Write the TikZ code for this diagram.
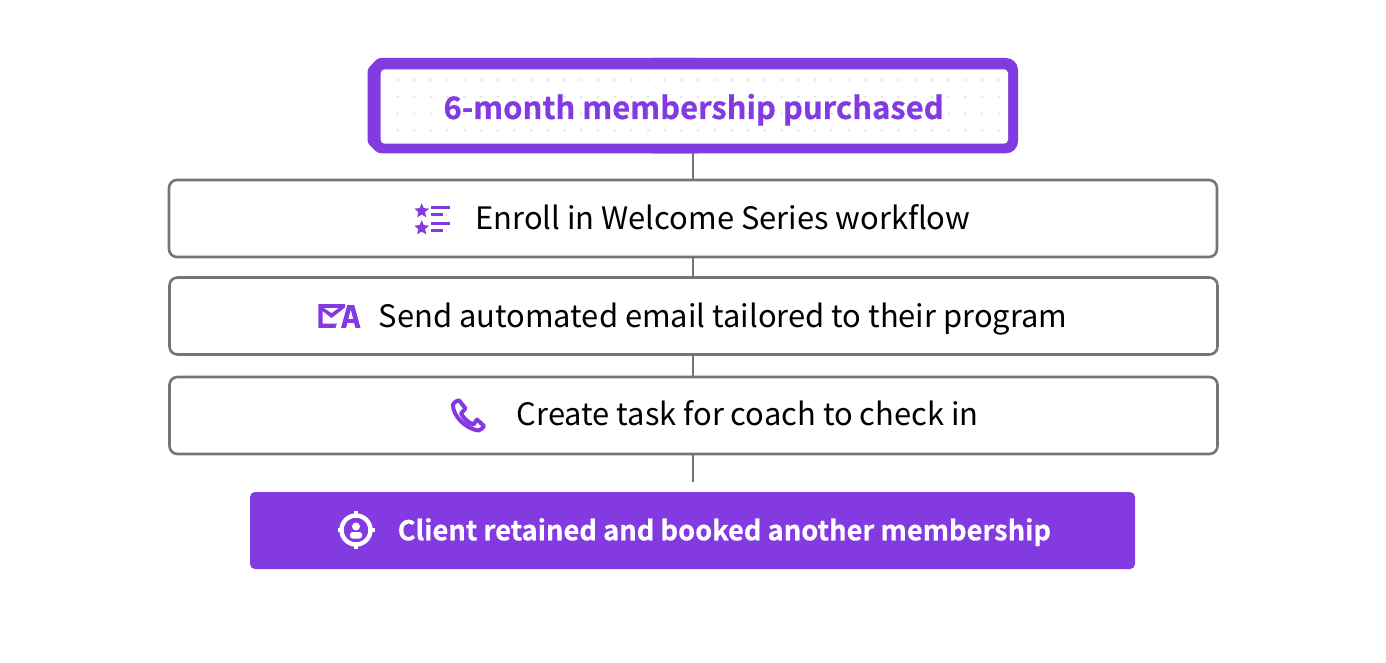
\documentclass[tikz,border=0pt]{standalone}
\usepackage{fontspec}
\setmainfont{Noto Sans CJK SC}
\newfontfamily\boldface[FakeBold=0.5]{Noto Sans CJK SC Bold}
\usetikzlibrary{shapes.geometric}
\definecolor{vio}{HTML}{833AE0}
\definecolor{edge}{HTML}{757575}
\definecolor{dotc}{HTML}{E6E6E6}
\tikzset{
  x=1pt,y=-1pt,
  stepbox/.style={draw=edge,line width=2.6pt,fill=white,rounded corners=8pt,minimum height=77pt,inner sep=0pt},
  link/.style={draw=edge,line width=2.6pt},
  lbl/.style={anchor=base west,inner sep=0pt,font=\fontsize{30.9}{38}\selectfont,text=black},
  icon/.style={fill=vio,draw=none},
  iconline/.style={draw=vio,line width=3.2pt,line cap=butt},
  starmark/.style={star,star points=5,star point ratio=2.2,fill=vio,draw=none,minimum size=15.5pt,inner sep=0pt},
}
\begin{document}
\begin{tikzpicture}
\useasboundingbox (0,0) rectangle (1386,663);
\fill[white] (0,0) rectangle (1386,663);
% top box
\fill[vio,rounded corners=12pt] (640,58) -- (1018,58) -- (1018,153.3) -- (640,153.3) -- cycle;
\fill[vio,rounded corners=3pt] (700,58) -- (378,58) -- (367.5,69) -- (367.5,143) -- (378,153.3) -- (700,153.3) -- cycle;
\node[fill=white,rounded corners=4pt,minimum width=627.3pt,minimum height=74.4pt,inner sep=0pt] (top) at (694.35,106.5) {};
\foreach \i in {1,...,37}{\foreach \y in {80,96.7,113.6,130.5}{
  \fill[dotc] ({380.8+16.7*\i},\y) circle[radius=1.5];}}
\node[anchor=base west,inner sep=0pt,text=vio,font=\boldface\fontsize{31}{38}\selectfont] (ttl) at (443.3,119) {6-month membership purchased};
% steps
\node[stepbox,minimum width=1048pt] (s1) at (693,218.5) {};
\node[stepbox,minimum width=1048pt] (s2) at (693.5,316) {};
\node[stepbox,minimum width=1048pt] (s3) at (693.5,415.5) {};
\node[fill=vio,rounded corners=5pt,minimum width=885pt,minimum height=77pt,inner sep=0pt] (goal) at (692.5,530.5) {};
\coordinate (top-s) at (693,153.3);
\coordinate (end) at (693,482);
\draw[link] (top-s) -- (top-s |- s1.north);
\draw[link] (s1.south -| top-s) -- (s2.north -| top-s);
\draw[link] (s2.south -| top-s) -- (s3.north -| top-s);
\draw[link] (s3.south -| top-s) -- (end);
\node[lbl] (t1) at (475.3,229.5) {Enroll in Welcome Series workflow};
\node[lbl] (t2) at (378.5,327.5) {Send automated email tailored to their program};
\node[lbl] (t3) at (516.5,425.5) {Create task for coach to check in};
\node[anchor=base west,inner sep=0pt,text=white,font=\boldface\fontsize{27.3}{34}\selectfont] (t4) at (397.5,540.3) {Client retained and booked another membership};
% star-list icon
\node[starmark] (st1) at (421.7,211) {};
\node[starmark] (st2) at (421.7,228) {};
\foreach \a/\b/\y in {431.3/449.5/207.5,431.3/442.5/214.5,431.3/449.5/223.5,431.3/443/230.5}
  \draw[iconline] (\a,\y) -- (\b,\y);
% mail-A icon
\fill[icon] (318.3,304) -- (345,304) -- (345,307.5) -- (331.5,318) -- (322.5,311) -- (322.5,323.5) -- (337,323.5) -- (335.5,327.8) -- (318.3,327.8) -- cycle;
\fill[white] (324,308) -- (338.5,308) -- (331.5,313) -- cycle;
\fill[icon,even odd rule] (347.3,305) -- (354.2,305) -- (360.5,327.8) -- (355.4,327.8) -- (354.1,322.8) -- (347.4,322.8) -- (346.1,327.8) -- (341.1,327.8) -- cycle
  (348.3,319) -- (353.2,319) -- (350.75,309.5) -- cycle;
% phone icon
\draw[draw=vio,line width=4pt,line join=round] (453,404.5) .. controls (454,402) and (457,400.5) .. (459,400.3)
  -- (465.5,408.5) -- (461,413.5) .. controls (464,419) and (469,423) .. (473.5,424.5)
  -- (477,419.5) -- (484,426) .. controls (483,428) and (481,429.5) .. (478.5,430.5)
  .. controls (466,429) and (452.5,416) .. (453,404.5) -- cycle;
% target icon
\draw[white,line width=4.4pt] (356,530) circle[radius=14.5];
\foreach \a/\b/\c/\d in {356/511/356/518,356/542/356/549,337.7/530/344/530,368/530/375/530}
  \draw[white,line width=3.6pt] (\a,\b) -- (\c,\d);
\fill[white] (356,526.5) circle[radius=4];
\fill[white,rounded corners=2.5pt] (350,538.5) -- (350,532) -- (362,532) -- (362,538.5) -- cycle;
\end{tikzpicture}
\end{document}
